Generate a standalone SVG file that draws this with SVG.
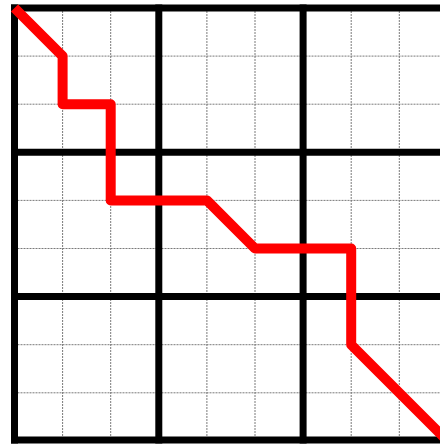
<svg xmlns="http://www.w3.org/2000/svg" width="440" height="444" viewBox="0 0 440 444">
<style>
.fine{stroke:#7a7a7a;stroke-width:1;stroke-dasharray:2 1;fill:none}
.thick{stroke:#000;stroke-width:7;fill:none;stroke-linecap:square}
.path{stroke:#ff0000;stroke-width:10;fill:none;stroke-linejoin:round;stroke-linecap:butt}
</style>
<rect width="440" height="444" fill="#fff"/>
<g id="fine-grid" class="fine">
<line x1="62.6" y1="8" x2="62.6" y2="441"/>
<line x1="110.7" y1="8" x2="110.7" y2="441"/>
<line x1="206.9" y1="8" x2="206.9" y2="441"/>
<line x1="255" y1="8" x2="255" y2="441"/>
<line x1="351.2" y1="8" x2="351.2" y2="441"/>
<line x1="399.3" y1="8" x2="399.3" y2="441"/>
<line x1="14.5" y1="56.1" x2="448" y2="56.1"/>
<line x1="14.5" y1="104.2" x2="448" y2="104.2"/>
<line x1="14.5" y1="200.4" x2="448" y2="200.4"/>
<line x1="14.5" y1="248.5" x2="448" y2="248.5"/>
<line x1="14.5" y1="344.7" x2="448" y2="344.7"/>
<line x1="14.5" y1="392.8" x2="448" y2="392.8"/>
</g>
<g id="thick-grid" class="thick">
<line x1="14.5" y1="8" x2="14.5" y2="440"/>
<line x1="158.8" y1="8" x2="158.8" y2="440"/>
<line x1="303.1" y1="8" x2="303.1" y2="440"/>
<line x1="14.5" y1="8" x2="448" y2="8"/>
<line x1="14.5" y1="152.3" x2="448" y2="152.3"/>
<line x1="14.5" y1="296.6" x2="448" y2="296.6"/>
<line x1="14.5" y1="440" x2="448" y2="440"/>
</g>
<g id="connectors">
<path class="path" d="M14.5,8 L62.6,56.1 L62.6,104.2 L110.7,104.2 L110.7,200.4 L206.9,200.4 L255,248.5 L351.2,248.5 L351.2,344.7 L447.4,440.9"/>
</g>
</svg>
